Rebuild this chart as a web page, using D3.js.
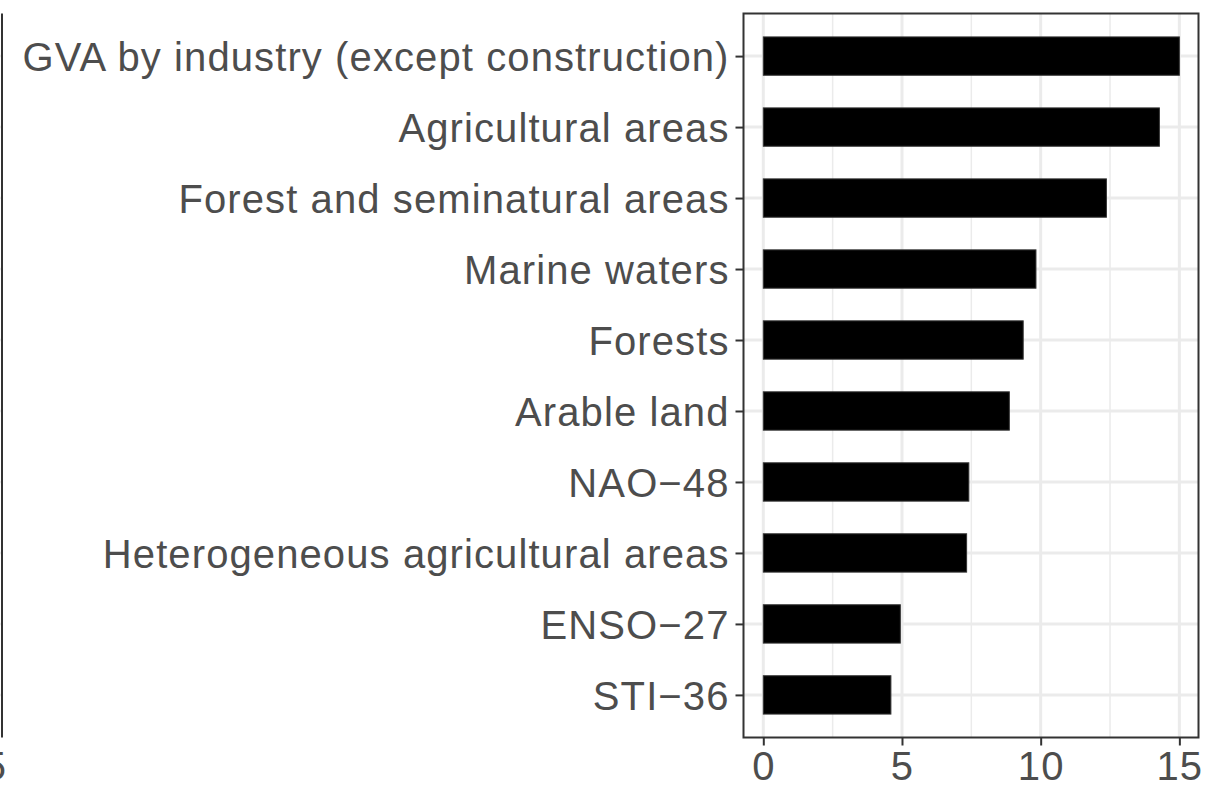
<!DOCTYPE html>
<html><head><meta charset="utf-8">
<script src="https://cdn.jsdelivr.net/npm/d3@7"></script>
<style>html,body{margin:0;padding:0;background:#fff;}svg{display:block;}</style>
</head><body>
<svg id="chart" width="1206" height="786"></svg>
<script>
const categories = ["GVA by industry (except construction)","Agricultural areas","Forest and seminatural areas","Marine waters","Forests","Arable land","NAO\u221248","Heterogeneous agricultural areas","ENSO\u221227","STI\u221236"];
const values = [15.0, 14.28, 12.37, 9.83, 9.37, 8.87, 7.41, 7.33, 4.94, 4.6];
const xTicks = [0, 5, 10, 15];
const xMinor = [2.5, 7.5, 12.5];

const svg = d3.select("#chart");
const P = {left: 743.5, right: 1198.5, top: 13.5, bottom: 737.5};
const fontFam = "Liberation Sans, Arial, Helvetica, sans-serif";
const fs = 40;
const ls = "1.1px";

const xmax = d3.max(values);
const x = d3.scaleLinear().domain([-0.0476*xmax, 1.046*xmax]).range([P.left, P.right]);
const n = categories.length;
const step = (P.bottom - P.top) / (n - 1 + 1.2);
const y = d3.scalePoint().domain(categories).range([P.top + 0.6*step, P.bottom - 0.6*step]);
const barH = step * 0.54;

// left partial panel (cut off at the image edge)
const gl = svg.append("g");
gl.selectAll("line.lg").data(categories).join("line")
  .attr("x1", -10).attr("x2", 2).attr("y1", d => y(d)).attr("y2", d => y(d))
  .attr("stroke", "#ebebeb").attr("stroke-width", 2.5);
gl.append("line").attr("x1", 2).attr("x2", 2).attr("y1", P.top).attr("y2", P.bottom)
  .attr("stroke", "#333").attr("stroke-width", 2);
gl.append("text").attr("x", 6).attr("y", 780).attr("text-anchor", "end")
  .attr("font-family", fontFam).attr("font-size", fs).attr("fill", "#4d4d4d").text("5");

// grid
const g = svg.append("g");
g.selectAll("line.minor").data(xMinor).join("line")
  .attr("x1", d => x(d)).attr("x2", d => x(d)).attr("y1", P.top).attr("y2", P.bottom)
  .attr("stroke", "#ebebeb").attr("stroke-width", 1.5);
g.selectAll("line.majx").data(xTicks).join("line")
  .attr("x1", d => x(d)).attr("x2", d => x(d)).attr("y1", P.top).attr("y2", P.bottom)
  .attr("stroke", "#ebebeb").attr("stroke-width", 3);
g.selectAll("line.majy").data(categories).join("line")
  .attr("x1", P.left).attr("x2", P.right).attr("y1", d => y(d)).attr("y2", d => y(d))
  .attr("stroke", "#ebebeb").attr("stroke-width", 3);

// bars
g.selectAll("rect.bar").data(categories).join("rect")
  .attr("x", x(0)).attr("y", d => y(d) - barH/2)
  .attr("width", (d,i) => x(values[i]) - x(0)).attr("height", barH)
  .attr("fill", "#000").attr("stroke", "#333").attr("stroke-width", 1);

// panel border
g.append("rect").attr("x", P.left).attr("y", P.top)
  .attr("width", P.right - P.left).attr("height", P.bottom - P.top)
  .attr("fill", "none").attr("stroke", "#333").attr("stroke-width", 2);

// y axis
const yAxis = d3.axisLeft(y).tickSize(8).tickPadding(6);
const ya = svg.append("g").attr("transform", `translate(${P.left},0)`).call(yAxis);
ya.select(".domain").remove();
ya.selectAll(".tick line").attr("stroke", "#333").attr("stroke-width", 2);
ya.selectAll(".tick text").attr("font-family", fontFam).attr("font-size", fs)
  .attr("letter-spacing", ls).attr("fill", "#4d4d4d").attr("dy", "0.36em");

// x axis
const xAxis = d3.axisBottom(x).tickValues(xTicks).tickSize(8).tickPadding(6).tickFormat(d3.format("d"));
const xa = svg.append("g").attr("transform", `translate(0,${P.bottom})`).call(xAxis);
xa.select(".domain").remove();
xa.selectAll(".tick line").attr("stroke", "#333").attr("stroke-width", 2);
xa.selectAll(".tick text").attr("font-family", fontFam).attr("font-size", fs)
  .attr("letter-spacing", ls).attr("fill", "#4d4d4d").attr("dy", "0.71em");
</script>
</body></html>
